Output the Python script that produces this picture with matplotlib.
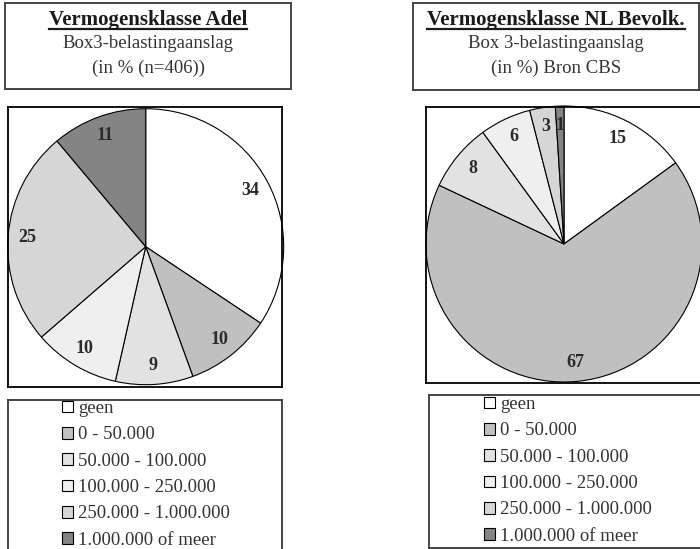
import matplotlib
matplotlib.use('Agg')
import matplotlib.pyplot as plt
from matplotlib.lines import Line2D

# ---------------- data ----------------
categories = ['geen', '0 - 50.000', '50.000 - 100.000', '100.000 - 250.000',
              '250.000 - 1.000.000', '1.000.000 of meer']
adel_values = [34, 10, 9, 10, 25, 11]
nl_values = [15, 67, 8, 6, 3, 1]
adel_title = ['Vermogensklasse Adel', 'Box3-belastingaanslag', '(in % (n=406))']
nl_title = ['Vermogensklasse NL Bevolk.', 'Box 3-belastingaanslag', '(in %) Bron CBS']

# ---------------- style ----------------
colors = ['#ffffff', '#c0c0c0', '#e2e2e2', '#efefef', '#d6d6d6', '#848484']
plt.rcParams['font.family'] = ['Liberation Serif', 'DejaVu Serif']
TXT = '#333333'

W, H = 700, 549
fig = plt.figure(figsize=(7, 5.49), dpi=100)


def px_axes(x0, y0, x1, y1):
    """Axes from pixel box (top-left origin)."""
    return fig.add_axes([x0 / W, 1 - y1 / H, (x1 - x0) / W, (y1 - y0) / H])


def box_axes(rect, color='#444444', lw=1.4):
    ax = px_axes(*rect)
    ax.set_xticks([])
    ax.set_yticks([])
    ax.set_xlim(0, 1)
    ax.set_ylim(0, 1)
    for s in ax.spines.values():
        s.set_color(color)
        s.set_linewidth(lw)
    return ax


title_texts = []


def title_box(rect, lines):
    box_axes(rect)
    x0, y0, x1, y1 = rect
    cx = (x0 + x1) / 2
    ys = [y0 + 17, y0 + 41, y0 + 65]
    for i, (line, y) in enumerate(zip(lines, ys)):
        t = fig.text(cx / W, 1 - y / H, line, ha='center', va='center',
                     fontsize=15 if i == 0 else 13.5,
                     color=TXT if i else '#1a1a1a',
                     fontweight='bold' if i == 0 else 'normal')
        if i == 0:
            title_texts.append(t)


def pie_box(rect, center, values, r=138.0):
    x0, y0, x1, y1 = rect
    ax = px_axes(*rect)
    it = iter(values)
    wedges, texts, autotexts = ax.pie(
        values, colors=colors, startangle=90, counterclock=False,
        autopct=lambda p: str(next(it)), pctdistance=0.86,
        wedgeprops=dict(edgecolor='black', linewidth=0.8),
        textprops=dict(fontsize=13, fontweight='bold', color='#2a2a2a'))
    ax.set_aspect('auto')
    cx, cy = center
    ax.set_xlim(-(cx - x0) / r, (x1 - cx) / r)
    ax.set_ylim(-(y1 - cy) / r, (cy - y0) / r)
    ax.set_frame_on(True)
    for s in ax.spines.values():
        s.set_color('black')
        s.set_linewidth(1.3)
    return wedges


def legend_box(rect, wedges, anchor):
    box_axes(rect)
    ax_x, ax_y = anchor
    fig.legend(wedges, categories, loc='upper left',
               bbox_to_anchor=(ax_x / W, 1 - ax_y / H),
               bbox_transform=fig.transFigure, frameon=False,
               fontsize=13.5, handlelength=0.58, handleheight=0.58,
               handletextpad=0.3, labelspacing=0.5, borderpad=0,
               borderaxespad=0, labelcolor=TXT)


# left column
title_box((5, 3, 291, 89), adel_title)
w_left = pie_box((8, 107, 282, 387), (145.7, 246.7), adel_values)
legend_box((8, 400, 282, 560), w_left, (62, 400))

# right column
title_box((413, 3, 699, 90), nl_title)
w_right = pie_box((426, 107, 712, 383), (564, 244), nl_values)
legend_box((429, 395, 712, 548), w_right, (484, 396))

# underline the bold headings
fig.canvas.draw()
renderer = fig.canvas.get_renderer()
for t in title_texts:
    bb = t.get_window_extent(renderer)
    y = bb.y0 + 1.5
    fig.add_artist(Line2D([bb.x0 / W, bb.x1 / W], [y / H, y / H],
                          transform=fig.transFigure, color='#1a1a1a', lw=1.6))

fig.savefig('out.png', dpi=100)
